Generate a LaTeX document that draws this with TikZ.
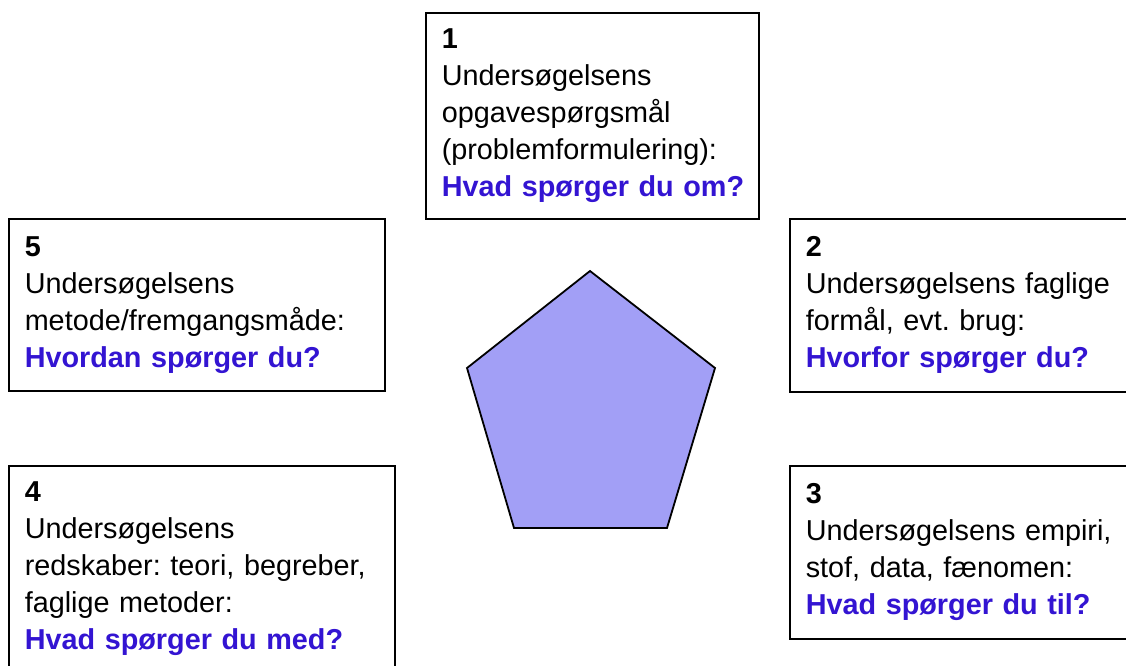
\documentclass[tikz,border=0pt]{standalone}
\usepackage{fontspec}
\setmainfont{Liberation Sans}
\frenchspacing
\definecolor{qblue}{RGB}{51,20,210}
\definecolor{pentfill}{RGB}{162,159,246}
\newcommand{\askq}[1]{\mbox{\bfseries\color{qblue}#1}}
\newcommand{\numq}[1]{\textbf{#1}}
\begin{document}
\begin{tikzpicture}[x=1pt,y=-1pt,
  qbox/.style={draw=black,line width=1.5pt,fill=white,anchor=north west,
    align=left,inner xsep=16pt,inner ysep=0pt,
    font=\fontsize{28.8}{37}\selectfont}]
\useasboundingbox (0,0) rectangle (1126,665);
\node[qbox,text width=301pt,minimum height=206pt] (b1) at (425,12)
  {\numq{1}\\Undersøgelsens\\opgavespørgsmål\\(problemformulering):\\\askq{Hvad spørger du om?}};
\node[qbox,text width=319pt,minimum height=173pt] (b2) at (789,218)
  {\numq{2}\\\mbox{Undersøgelsens faglige}\\formål, evt. brug:\\\askq{Hvorfor spørger du?}};
\node[qbox,text width=319pt,minimum height=173pt] (b3) at (789,465)
  {\numq{3}\\\mbox{Undersøgelsens empiri,}\\stof, data, fænomen:\\\askq{Hvad spørger du til?}};
\node[qbox,text width=354pt,minimum height=205pt] (b4) at (8,465)
  {\numq{4}\\Undersøgelsens\\\mbox{redskaber: teori, begreber,}\\faglige metoder:\\\askq{Hvad spørger du med?}};
\node[qbox,text width=344pt,minimum height=172pt] (b5) at (8,218)
  {\numq{5}\\Undersøgelsens\\metode/fremgangsmåde:\\\askq{Hvordan spørger du?}};
\coordinate (p1) at (590,271);
\coordinate (p2) at (715,368);
\coordinate (p3) at (667,528);
\coordinate (p4) at (514,528);
\coordinate (p5) at (467,368);
\draw[line width=1.8pt,fill=pentfill,line join=miter] (p1) -- (p2) -- (p3) -- (p4) -- (p5) -- cycle;
\end{tikzpicture}
\end{document}
